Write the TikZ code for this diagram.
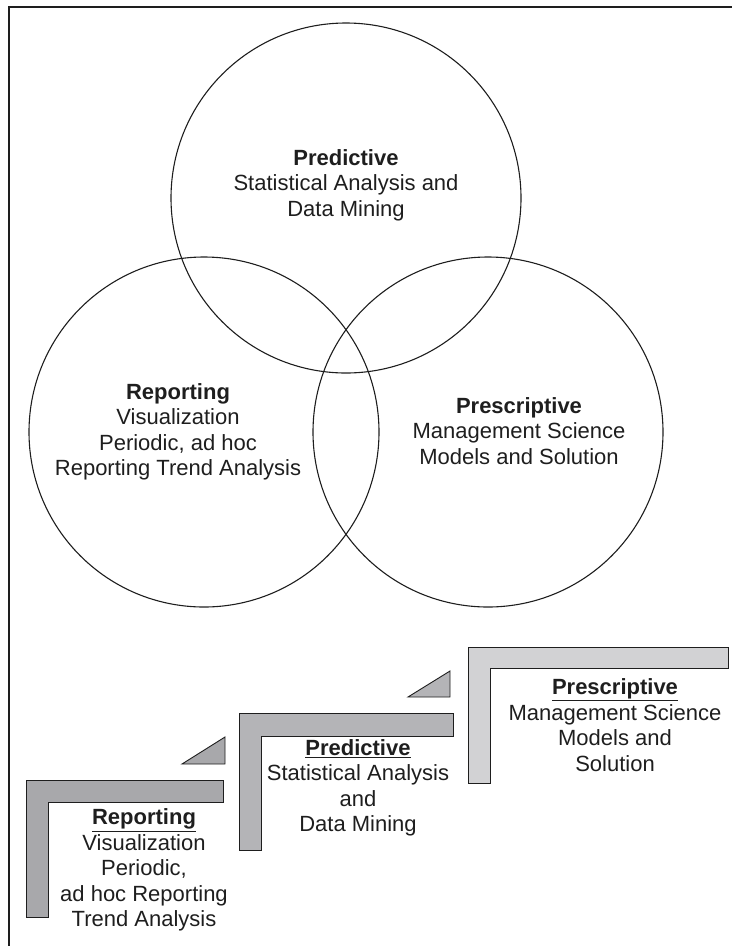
\documentclass[tikz,border=0pt]{standalone}
\usepackage{fontspec}
\setmainfont{Liberation Sans}
\definecolor{stepA}{RGB}{168,168,171}
\definecolor{stepB}{RGB}{180,180,183}
\definecolor{stepC}{RGB}{210,210,212}
\definecolor{ink}{RGB}{30,30,30}
\begin{document}
\begin{tikzpicture}[x=1pt,y=-1pt,
  ring/.style={circle,draw=ink,line width=1.1pt,minimum size=350pt,inner sep=0pt},
  lbl/.style={align=center,font=\fontsize{22}{25.5}\selectfont,inner sep=0pt,text=ink},
  bar/.style={draw=ink,line width=0.9pt,line join=miter},
]
\useasboundingbox (0,0) rectangle (732,946);
\draw[ink,line width=1.6pt] (9,946) -- (9,7) -- (732,7);

% Venn circles
\node[ring] (cPred) at (346,198) {};
\node[ring] (cRep) at (204,432) {};
\node[ring] (cPres) at (488,432) {};

\node[lbl] (tPred) at (346,185) {\textbf{Predictive}\\Statistical Analysis and\\Data Mining};
\node[lbl] (tRep) at (178,432) {\textbf{Reporting}\\Visualization\\Periodic, ad hoc\\Reporting Trend Analysis};
\node[lbl] (tPres) at (519,431) {\textbf{Prescriptive}\\Management Science\\Models and Solution};

% Stairs
\draw[bar,fill=stepA] (26,780) -- (223,780) -- (223,802) -- (48,802) -- (48,917) -- (26,917) -- cycle;
\draw[bar,fill=stepA] (182,764) -- (225,737) -- (225,764) -- cycle;
\draw[bar,fill=stepB] (239,713) -- (453,713) -- (453,736) -- (261,736) -- (261,850) -- (239,850) -- cycle;
\draw[bar,fill=stepB] (408,697) -- (450,671) -- (450,697) -- cycle;
\draw[bar,fill=stepC] (468,647) -- (728,647) -- (728,668) -- (490,668) -- (490,783) -- (468,783) -- cycle;

\node[lbl] (sRep) at (144,870) {\underline{\textbf{Reporting}}\\Visualization\\Periodic,\\ad hoc Reporting\\Trend Analysis};
\node[lbl] (sPred) at (358,788) {\underline{\textbf{Predictive}}\\Statistical Analysis\\and\\Data Mining};
\node[lbl] (sPres) at (615,725) {\underline{\textbf{Prescriptive}}\\Management Science\\Models and\\Solution};
\end{tikzpicture}
\end{document}
